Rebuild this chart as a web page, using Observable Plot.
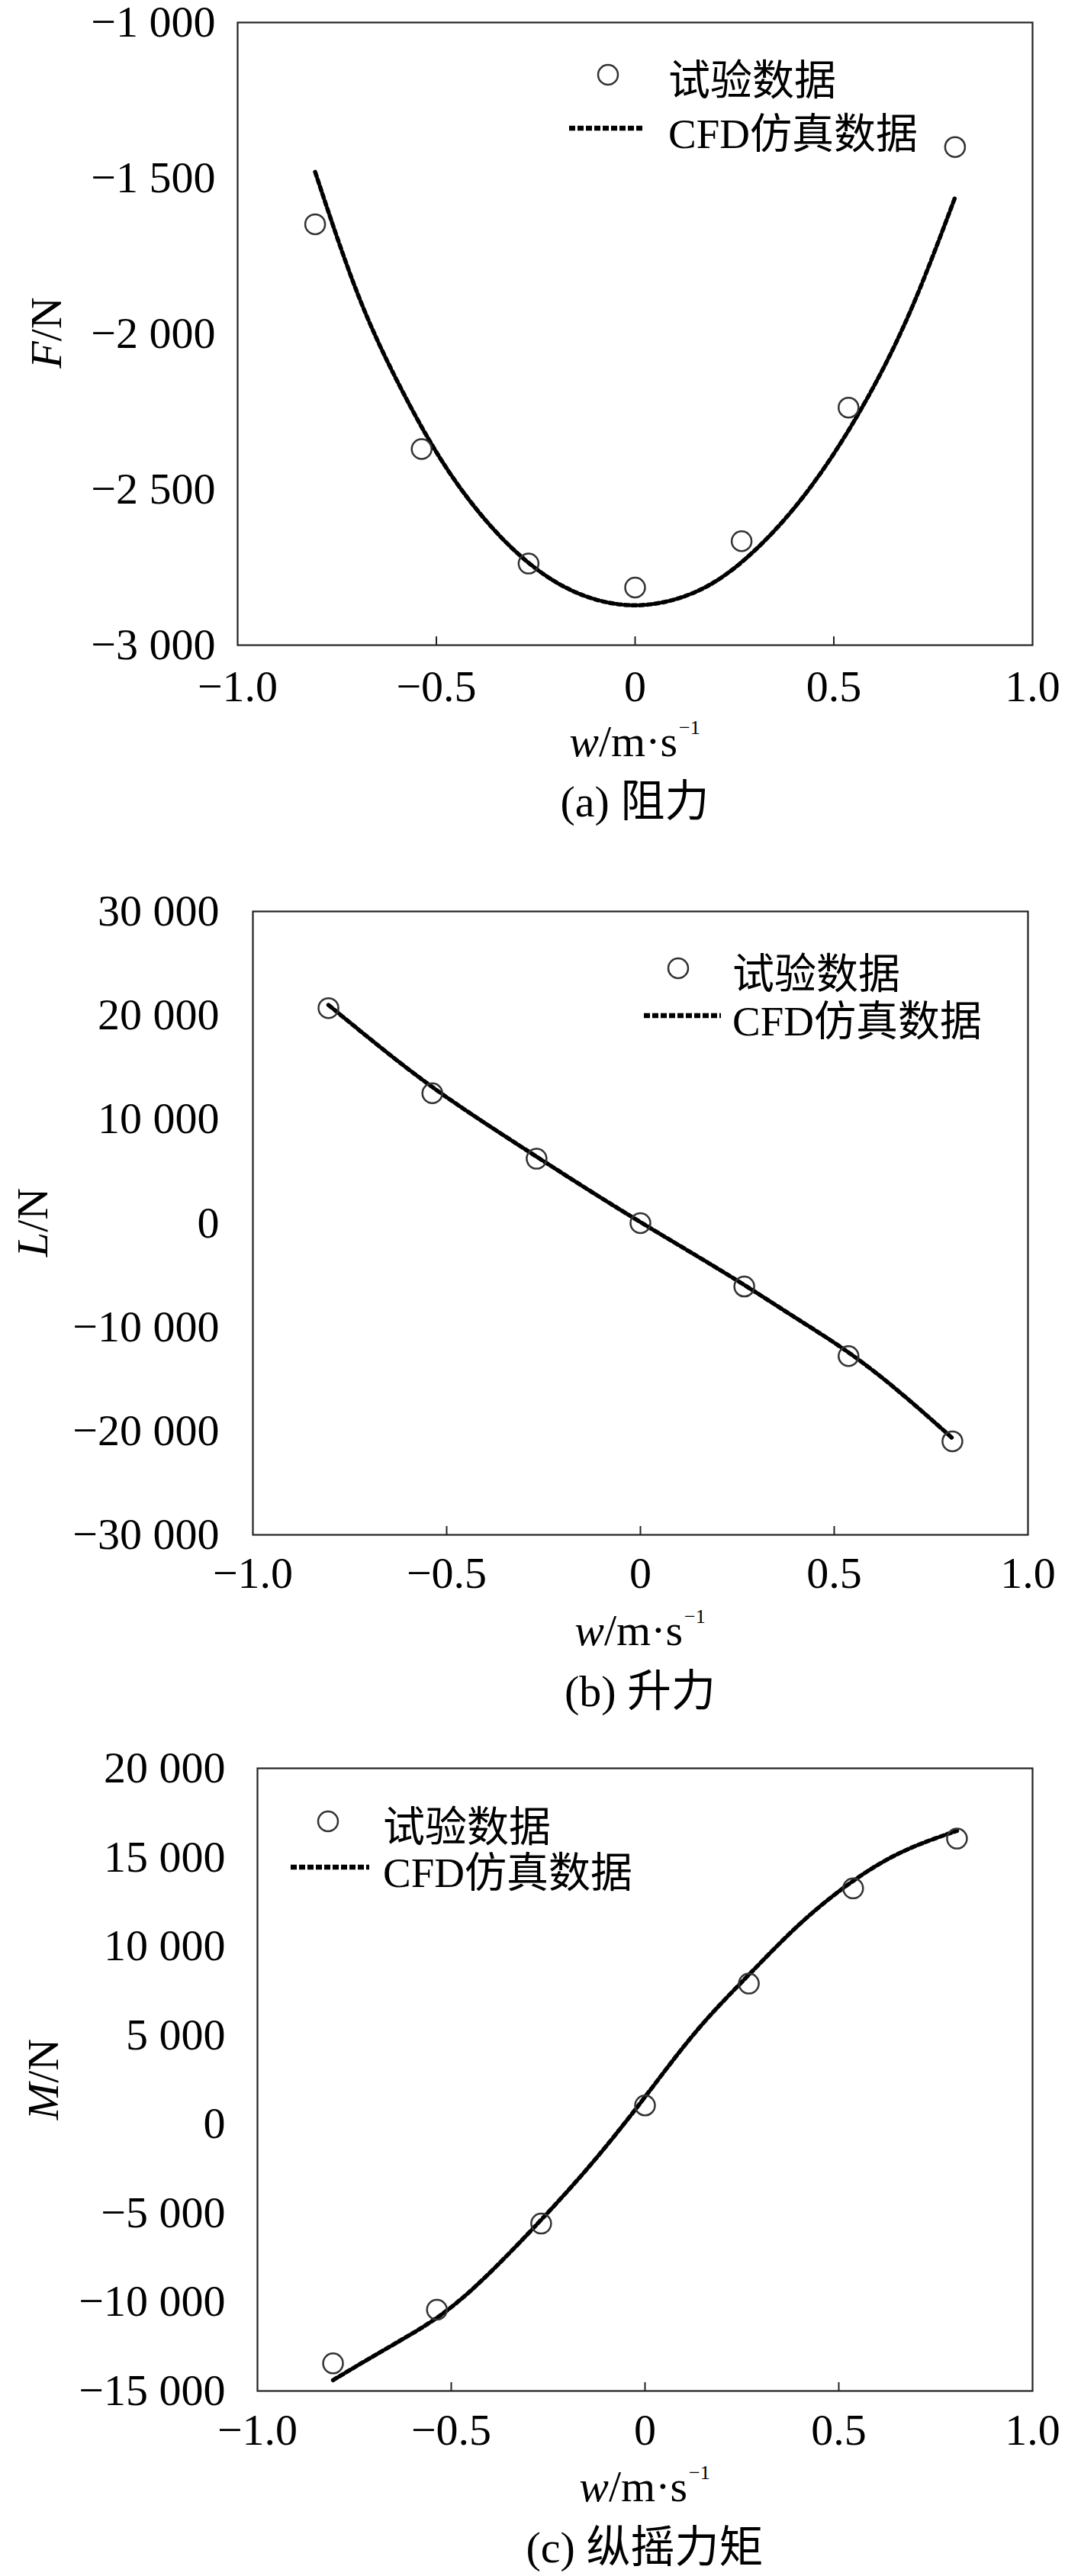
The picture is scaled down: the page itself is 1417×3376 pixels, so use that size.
<!DOCTYPE html>
<html><head><meta charset="utf-8">
<script src="https://cdn.jsdelivr.net/npm/d3@7"></script>
<script src="https://cdn.jsdelivr.net/npm/@observablehq/plot@0.6"></script>
<style>
body{margin:0;background:#fff;}
#page{position:relative;width:1417px;height:3376px;overflow:hidden;font-family:"Liberation Serif","Times New Roman",serif;color:#000;background:#fff;}
.abs{position:absolute;white-space:nowrap;line-height:1;}
.cjk{font-family:"Noto Sans CJK SC",sans-serif;}
.panel{position:absolute;left:0;width:1417px;}
.sup{font-size:0.45em;position:relative;top:-1.1em;margin-left:2px;}
</style></head><body><div id="page"></div>
<script>
// ---- data ----
const xDomain = [-1, 1];
const xTicks = [-1, -0.5, 0, 0.5, 1];
const xInnerTicks = [-0.5, 0, 0.5];
const wExp = [-0.805, -0.537, -0.268, 0, 0.268, 0.537, 0.805];

// (a) drag F/N
const yDomainA = [-3000, -1000];
const yTicksA = [-3000, -2500, -2000, -1500, -1000];
const expA = [-1648, -2370, -2738, -2815, -2666, -2237, -1400];
const cfdAw = [-0.805, -0.7, -0.6, -0.5, -0.4, -0.3, -0.2, -0.1, 0, 0.1, 0.2, 0.3, 0.4, 0.5, 0.6, 0.7, 0.805];
const cfdAF = [-1480, -1865, -2148, -2380, -2562, -2700, -2797, -2853, -2872, -2853, -2797, -2697, -2560, -2385, -2170, -1905, -1562];

// (b) lift L/N
const yDomainB = [-30000, 30000];
const yTicksB = [-30000, -20000, -10000, 0, 10000, 20000, 30000];
const expB = [20700, 12500, 6200, 0, -6100, -12800, -21000];
const cfdBw = [-0.805, -0.67, -0.537, -0.4, -0.268, -0.134, 0, 0.134, 0.268, 0.4, 0.537, 0.67, 0.805];
const cfdBL = [21000, 16900, 13100, 9600, 6400, 3200, 100, -2900, -5950, -9100, -12450, -16300, -20700];

// (c) pitch moment M/N
const yDomainC = [-15000, 20000];
const yTicksC = [-15000, -10000, -5000, 0, 5000, 10000, 15000, 20000];
const expC = [-13450, -10430, -5590, 1050, 7900, 13250, 16050];
const cfdCw = [-0.805, -0.67, -0.54, -0.416, -0.268, -0.132, 0, 0.135, 0.27, 0.402, 0.539, 0.668, 0.805];
const cfdCM = [-14390, -12650, -10930, -8680, -5380, -2070, 1530, 5290, 8440, 11300, 13700, 15350, 16490];

const legendExp = "试验数据";
const legendCfdLatin = "CFD";
const legendCfdCjk = "仿真数据";

// ---- helpers ----
const page = document.getElementById("page");
const fmtY = d => d3.format(",")(d).replace(/,/g, " ").replace("-", "\u2212");
const fmtX = d => d === 0 ? "0" : d3.format(".1f")(d).replace("-", "\u2212");

function makePanel(cfg) {
  const expData = wExp.map((w, i) => ({w, v: cfg.exp[i]}));
  const cfdData = cfg.cfdW.map((w, i) => ({w, v: cfg.cfdV[i]}));
  const svg = Plot.plot({
    width: 1417, height: cfg.height,
    marginTop: cfg.mt, marginBottom: cfg.mb, marginLeft: cfg.ml, marginRight: cfg.mr,
    style: {fontFamily: '"Liberation Serif", "Times New Roman", serif', fontSize: "58px", color: "#000", background: "transparent", overflow: "visible"},
    x: {domain: xDomain},
    y: {domain: cfg.yDomain},
    marks: [
      Plot.ruleX(xInnerTicks, {y1: cfg.yDomain[0], y2: cfg.yDomain[0], insetTop: -11, stroke: "#222", strokeWidth: 2}),
      Plot.line(cfdData, {x: "w", y: "v", curve: "natural", stroke: "#000", strokeWidth: 5.5, strokeDasharray: "6,4"}),
      Plot.dot(expData, {x: "w", y: "v", r: 13, stroke: "#333", strokeWidth: 2.5, fill: "none"}),
      Plot.frame({stroke: "#222", strokeWidth: 2.2}),
      Plot.axisY({ticks: cfg.yTicks, tickSize: 0, tickPadding: cfg.ypad, tickFormat: fmtY, label: null}),
      Plot.axisX({ticks: xTicks, tickSize: 0, tickPadding: cfg.xpad, tickFormat: fmtX, label: null})
    ]
  });
  const div = document.createElement("div");
  div.className = "panel";
  div.style.top = cfg.top + "px";
  div.appendChild(svg);
  page.appendChild(div);
}

function txt(html, x, base, fs, anchor) {
  const d = document.createElement("div");
  d.className = "abs";
  d.innerHTML = html;
  d.style.fontSize = fs + "px";
  d.style.left = x + "px";
  d.style.top = (base - 0.86 * fs) + "px";
  if (anchor === "middle") d.style.transform = "translateX(-50%)";
  page.appendChild(d);
}
function ytitle(html, cx, cy, fs) {
  const d = document.createElement("div");
  d.className = "abs";
  d.innerHTML = html;
  d.style.fontSize = fs + "px";
  d.style.left = cx + "px";
  d.style.top = cy + "px";
  d.style.transform = "translate(-50%,-50%) rotate(-90deg)";
  page.appendChild(d);
}
function legend(cx, cy1, lx1, lx2, cy2, tx, base1, base2) {
  const ns = "http://www.w3.org/2000/svg";
  const s = document.createElementNS(ns, "svg");
  s.setAttribute("width", 1417); s.setAttribute("height", 3376);
  s.style.position = "absolute"; s.style.left = "0"; s.style.top = "0"; s.style.pointerEvents = "none";
  const c = document.createElementNS(ns, "circle");
  c.setAttribute("cx", cx); c.setAttribute("cy", cy1); c.setAttribute("r", 13);
  c.setAttribute("fill", "none"); c.setAttribute("stroke", "#333"); c.setAttribute("stroke-width", 2.5);
  s.appendChild(c);
  const l = document.createElementNS(ns, "line");
  l.setAttribute("x1", lx1); l.setAttribute("x2", lx2); l.setAttribute("y1", cy2); l.setAttribute("y2", cy2);
  l.setAttribute("stroke", "#000"); l.setAttribute("stroke-width", 6.5); l.setAttribute("stroke-dasharray", "8,3");
  s.appendChild(l);
  page.appendChild(s);
  txt(`<span class="cjk">${legendExp}</span>`, tx, base1, 55);
  txt(`${legendCfdLatin}<span class="cjk">${legendCfdCjk}</span>`, tx, base2, 55);
}

// ---- panels ----
makePanel({top: 0, height: 950, mt: 29, mb: 105, ml: 311, mr: 64, yDomain: yDomainA, yTicks: yTicksA, ypad: 29, xpad: 32, exp: expA, cfdW: cfdAw, cfdV: cfdAF});
makePanel({top: 1160, height: 950, mt: 34, mb: 99, ml: 331, mr: 70, yDomain: yDomainB, yTicks: yTicksB, ypad: 44, xpad: 28, exp: expB, cfdW: cfdBw, cfdV: cfdBL});
makePanel({top: 2280, height: 950, mt: 37, mb: 97, ml: 337, mr: 64, yDomain: yDomainC, yTicks: yTicksC, ypad: 42, xpad: 29, exp: expC, cfdW: cfdCw, cfdV: cfdCM});

// axis titles
ytitle("<i>F</i>/N", 61, 436, 58);
ytitle("<i>L</i>/N", 43, 1602, 58);
ytitle("<i>M</i>/N", 57, 2725, 58);
const xt = '<i>w</i>/m·s<span class="sup">\u22121</span>';
txt(xt, 832, 993, 58, "middle");
txt(xt, 839, 2158, 58, "middle");
txt(xt, 845, 3280, 58, "middle");
// captions
txt('(a) <span class="cjk">阻力</span>', 832, 1066, 58, "middle");
txt('(b) <span class="cjk">升力</span>', 839, 2232, 58, "middle");
txt('(c) <span class="cjk">纵摇力矩</span>', 845, 3354, 58, "middle");
// legends
legend(797, 98, 746, 843, 168, 876, 120, 190);
legend(889, 1269, 844, 945, 1331, 960, 1291, 1353);
legend(430, 2387, 381, 484, 2447, 502, 2409, 2469);
</script></body></html>
